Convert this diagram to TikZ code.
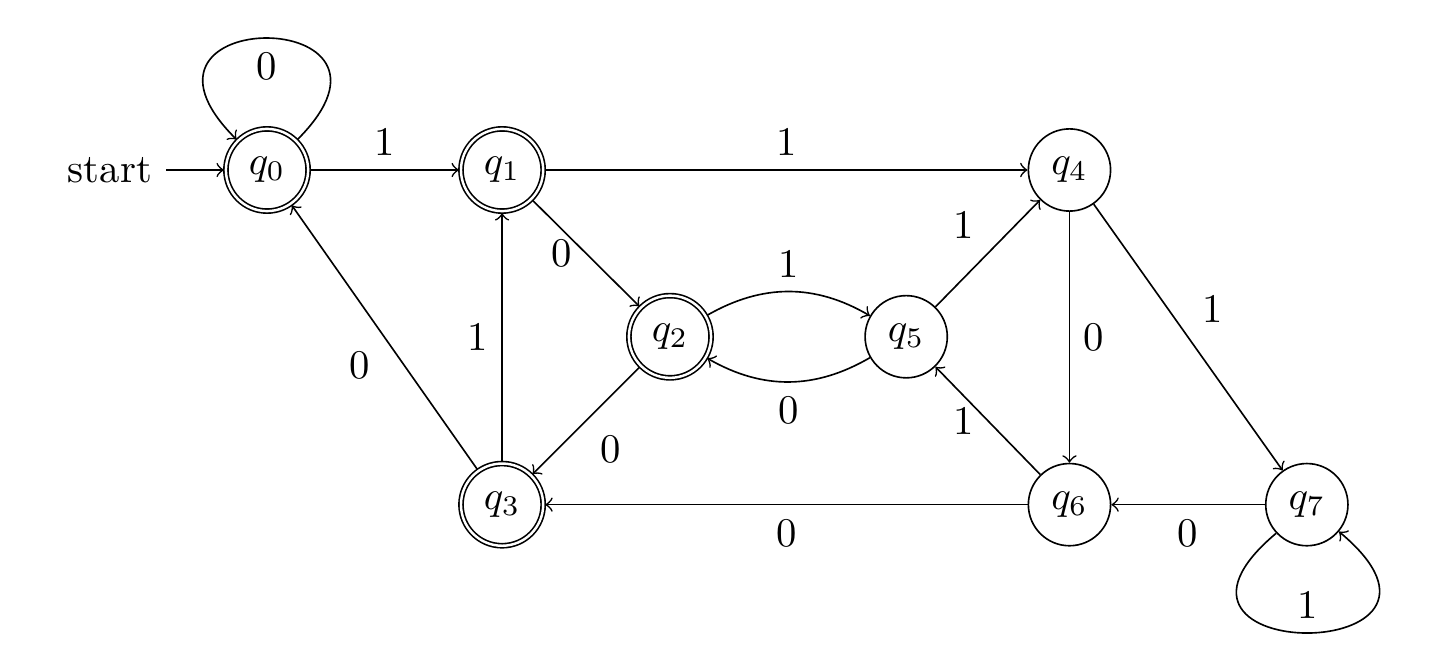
\documentclass[tikz,border=0pt]{standalone}
\begin{document}
\begin{tikzpicture}[
      qstate/.style={draw,circle,minimum size=20.2pt,inner sep=0pt},
      qfinal/.style={qstate,double,double distance=0.6pt,outer sep=0.5pt},
      arr/.style={->}
    ]
    \useasboundingbox (-2.306,-4.309) rectangle (10.052,1.468);
    % Accepting states
    \node[qfinal] (q0) at (0,0) {$q_0$};
    \node[qfinal] (q1) at (2.03,0) {$q_1$};
    \node[qfinal] (q2) at (3.48,-1.44) {$q_2$};
    \node[qfinal] (q3) at (2.03,-2.89) {$q_3$};
    % Other states
    \node[qstate] (q4) at (6.93,0) {$q_4$};
    \node[qstate] (q5) at (5.52,-1.44) {$q_5$};
    \node[qstate] (q6) at (6.93,-2.89) {$q_6$};
    \node[qstate] (q7) at (8.98,-2.89) {$q_7$};
    % Initial arrow
    \node[anchor=east] (start) at (-0.87,0) {start};
    \draw[arr] (start) -- (q0);
    % Loops
    \draw[arr] (q0.45) .. controls +(45:1.65) and +(135:1.65) .. node[below] {0} (q0.135);
    \draw[arr] (q7.-137) .. controls +(-140:1.8) and +(-40:1.8) .. node[above] {1} (q7.-40);
    % Transitions
    \draw[arr] (q0) -- node[above] {1} (q1);
    \draw[arr] (q1) -- node[above] {1} (q4);
    \draw[arr] (q1) -- node[left] {0} (q2);
    \draw[arr] (q2) -- node[below right] {0} (q3);
    \draw[arr] (q3) -- node[left] {1} (q1);
    \draw[arr] (q3) -- node[below left] {0} (q0);
    \draw[arr] (q2) to[bend left] node[above] {1} (q5);
    \draw[arr] (q5) to[bend left] node[below] {0} (q2);
    \draw[arr] (q5) -- node[above left] {1} (q4);
    \draw[arr] (q4) -- node[right] {0} (q6);
    \draw[arr] (q4) -- node[above right] {1} (q7);
    \draw[arr] (q6) -- node[left] {1} (q5);
    \draw[arr] (q6) -- node[below] {0} (q3);
    \draw[arr] (q7) -- node[below] {0} (q6);
  \end{tikzpicture}
\end{document}
